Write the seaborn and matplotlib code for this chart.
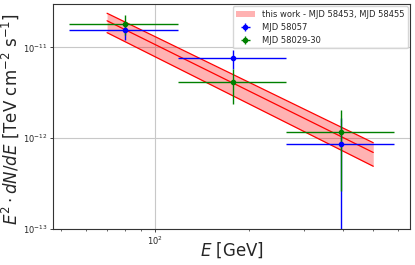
import numpy as np
import matplotlib
matplotlib.use("Agg")
import matplotlib.pyplot as plt
import matplotlib.ticker as mticker
import seaborn as sns

# energy bins [GeV]
bin_lo = [53, 118, 262]
bin_hi = [118, 262, 582]
e_center = [80, 177, 394]

# MJD 58057
flux_58057 = [1.55e-11, 7.6e-12, 8.7e-13]
err_58057 = [3.5e-12, 1.8e-12, 7.8e-13]

# MJD 58029-30
flux_58029 = [1.81e-11, 4.1e-12, 1.16e-12]
err_58029 = [4.5e-12, 1.7e-12, 0.9e-12]

# fitted band (this work)
band_e = [70, 500]
band_mid = [1.96e-11, 6.95e-13]
band_up = [2.37e-11, 8.9e-13]
band_low = [1.45e-11, 4.9e-13]

# axis ticks
x_major = [100]
x_minor = [50, 60, 70, 80, 90, 200, 300, 400, 500, 600]
y_major = [1e-13, 1e-12, 1e-11]

sns.set_style("ticks")
plt.rcParams["font.family"] = ["DejaVu Sans"]

fig, ax = plt.subplots(figsize=(4.15, 2.65), dpi=100)
fig.subplots_adjust(left=0.128, right=0.988, bottom=0.136, top=0.985)

ax.fill_between(band_e, band_low, band_up, color="red", alpha=0.3, lw=0,
                label="this work - MJD 58453, MJD 58455")
sns.lineplot(x=band_e, y=band_mid, color="red", lw=0.9, ax=ax)
sns.lineplot(x=band_e, y=band_up, color="red", lw=0.9, ax=ax)
sns.lineplot(x=band_e, y=band_low, color="red", lw=0.9, ax=ax)

xerr = [np.array(e_center) - np.array(bin_lo), np.array(bin_hi) - np.array(e_center)]
ax.errorbar(e_center, flux_58057, xerr=xerr, yerr=err_58057, fmt="o", color="blue",
            ms=3, lw=1, label="MJD 58057")
ax.errorbar(e_center, flux_58029, xerr=xerr, yerr=err_58029, fmt="o", color="green",
            ms=3, lw=1, label="MJD 58029-30")

ax.set_xscale("log")
ax.set_yscale("log")
ax.set_xticks(x_major)
ax.set_xticks(x_minor, minor=True)
ax.set_yticks(y_major)
ax.xaxis.set_minor_formatter(mticker.NullFormatter())
ax.yaxis.set_minor_locator(mticker.NullLocator())
ax.set_xlim(47, 656)
ax.set_ylim(1e-13, 3e-11)
ax.grid(True, which="major", color="#c8c8c8", lw=0.8)
ax.tick_params(which="major", labelsize=6, length=2.5, width=0.6, pad=1.5)
ax.tick_params(which="minor", length=1.5, width=0.5)
ax.set_xlabel(r"$E$ [GeV]", fontsize=12)
ax.set_ylabel(r"$E^2 \cdot dN/dE$ [TeV cm$^{-2}$ s$^{-1}$]", fontsize=12)
ax.xaxis.set_label_coords(0.5, -0.05)
ax.yaxis.set_label_coords(-0.09, 0.49)
for s in ax.spines.values():
    s.set_color("#333333")
    s.set_linewidth(0.8)

ax.legend(loc="upper right", fontsize=6, handlelength=2.3, borderaxespad=0.3)

plt.savefig("out.png", dpi=100)
